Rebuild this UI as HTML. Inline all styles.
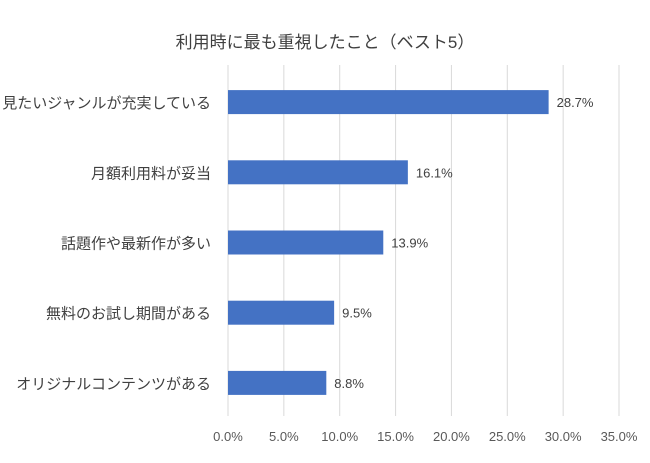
<!DOCTYPE html>
<html><head><meta charset="utf-8"><style>
html,body{margin:0;padding:0;background:#fff;}
svg{display:block;font-family:"Liberation Sans","Noto Sans CJK JP",sans-serif;}
</style></head><body>
<svg id="chart" width="650" height="463">
<text x="325" y="48" text-anchor="middle" font-size="17" fill="#404040">利用時に最も重視したこと（ベスト5）</text>
<g id="grid"></g><g id="bars"></g><g id="labels"></g>
</svg>
<script>
const categories=["見たいジャンルが充実している","月額利用料が妥当","話題作や最新作が多い","無料のお試し期間がある","オリジナルコンテンツがある"];
const values=[28.7,16.1,13.9,9.5,8.8];
const ticks=[0,5,10,15,20,25,30,35];
const NS="http://www.w3.org/2000/svg";
const x0=228,x1=619,plotTop=65,plotBottom=416;
const xs=v=>x0+v*(x1-x0)/35;
const band=(plotBottom-plotTop)/categories.length;
const yc=i=>plotTop+2+band*(i+0.5);
function mk(t,a,p){const e=document.createElementNS(NS,t);for(const k in a)e.setAttribute(k,a[k]);p.appendChild(e);return e;}
const g=document.getElementById('grid'),b=document.getElementById('bars'),l=document.getElementById('labels');
ticks.forEach(t=>{
 const ln=mk('line',{x1:xs(t),x2:xs(t),y1:plotTop,y2:plotBottom,stroke:'#d9d9d9','stroke-width':1},g);
 
 
 const tx=mk('text',{x:xs(t),y:441,'text-anchor':'middle','font-size':13,fill:'#595959'},g);
 tx.textContent=t.toFixed(1)+'%';
 
 
});
categories.forEach((c,i)=>{
 const r=mk('rect',{x:x0,y:yc(i)-12,width:xs(values[i])-x0,height:24,fill:'#4472c4'},b);
 
 
 const v=mk('text',{x:xs(values[i])+8,y:yc(i)+5,'font-size':13,fill:'#404040'},l);
 v.textContent=values[i].toFixed(1)+'%';
 
 
 const ct=mk('text',{x:211,y:yc(i)+6,'text-anchor':'end','font-size':15,fill:'#404040'},l);
 ct.textContent=c;
 
 
});
</script>
</body></html>
